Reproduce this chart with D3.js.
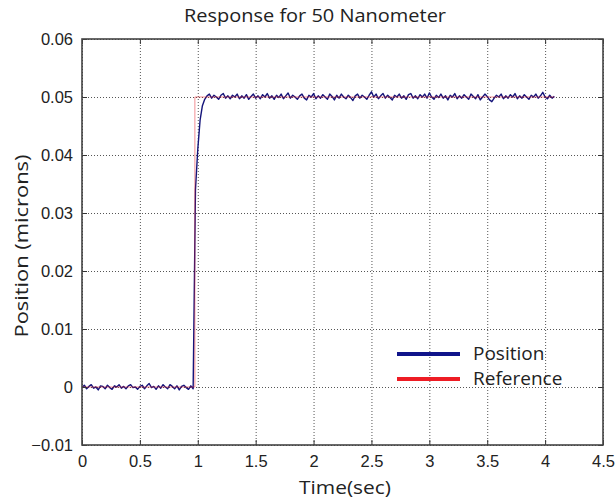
<!DOCTYPE html>
<html>
<head>
<meta charset="utf-8">
<script src="https://cdn.jsdelivr.net/npm/d3@7"></script>
<style>
  body { margin: 0; background: #fff; }
  svg { display: block; }
</style>
</head>
<body>
<div id="chart"></div>
<script>

// sample spacing of the recorded position (sec)
var sampleStep = 0.02;

// measured position (microns), one value per sample from t = 0
var position = [
  -0.0001, 0.0003, -0.0003, 0.0001, 0.0004, -0.0002, 0.0000, -0.0005, 0.0002, 0.0001,
  -0.0003, 0.0003, -0.0001, -0.0004, 0.0002, 0.0000, 0.0004, -0.0002, 0.0001, -0.0003,
  0.0002, 0.0004, -0.0001, 0.0000, -0.0004, 0.0001, 0.0003, -0.0003, 0.0002, 0.0006,
  -0.0001, 0.0001, -0.0004, 0.0002, -0.0002, 0.0004, 0.0000, -0.0003, 0.0004, 0.0001,
  -0.0003, 0.0002, -0.0005, 0.0001, 0.0003, -0.0001, -0.0004, 0.0002, -0.0003,
  0.0340, 0.0410, 0.0460, 0.0485, 0.0496,
  0.0502, 0.0505, 0.0498, 0.0503, 0.0500, 0.0496, 0.0503, 0.0506, 0.0498, 0.0502,
  0.0497, 0.0503, 0.0500, 0.0505, 0.0497, 0.0502, 0.0498, 0.0504, 0.0496, 0.0501,
  0.0505, 0.0498, 0.0502, 0.0497, 0.0504, 0.0500, 0.0506, 0.0498, 0.0502, 0.0496,
  0.0503, 0.0499, 0.0505, 0.0497, 0.0502, 0.0507, 0.0498, 0.0503, 0.0500, 0.0496,
  0.0502, 0.0505, 0.0498, 0.0495, 0.0503, 0.0500, 0.0506, 0.0497, 0.0502, 0.0498,
  0.0504, 0.0500, 0.0496, 0.0505, 0.0501, 0.0495, 0.0503, 0.0498, 0.0505, 0.0500,
  0.0497, 0.0503, 0.0499, 0.0494, 0.0502, 0.0505, 0.0498, 0.0503, 0.0500, 0.0496,
  0.0503, 0.0509, 0.0500, 0.0505, 0.0497, 0.0502, 0.0506, 0.0498, 0.0503, 0.0499,
  0.0495, 0.0503, 0.0500, 0.0505, 0.0498, 0.0502, 0.0496, 0.0504, 0.0506, 0.0498,
  0.0502, 0.0497, 0.0504, 0.0500, 0.0505, 0.0498, 0.0507, 0.0500, 0.0496, 0.0503,
  0.0499, 0.0505, 0.0498, 0.0502, 0.0495, 0.0503, 0.0500, 0.0506, 0.0497, 0.0502,
  0.0498, 0.0504, 0.0500, 0.0496, 0.0505, 0.0501, 0.0497, 0.0504, 0.0495, 0.0500,
  0.0505, 0.0501, 0.0495, 0.0492, 0.0498, 0.0503, 0.0500, 0.0505, 0.0497, 0.0502,
  0.0498, 0.0504, 0.0500, 0.0506, 0.0497, 0.0502, 0.0498, 0.0504, 0.0500, 0.0496,
  0.0503, 0.0500, 0.0505, 0.0498, 0.0502, 0.0508, 0.0500, 0.0497, 0.0503, 0.0498,
  0.0501
];

// step reference
var referenceTime = [0, 0.975, 0.975, 4.08];
var referenceValue = [0, 0, 0.05, 0.05];

var xTicks = [0, 0.5, 1, 1.5, 2, 2.5, 3, 3.5, 4, 4.5];
var xTickLabels = ["0", "0.5", "1", "1.5", "2", "2.5", "3", "3.5", "4", "4.5"];
var yTicks = [-0.01, 0, 0.01, 0.02, 0.03, 0.04, 0.05, 0.06];
var yTickLabels = ["\u22120.01", "0", "0.01", "0.02", "0.03", "0.04", "0.05", "0.06"];

var seriesNames = ["Position", "Reference"];
var seriesColors = ["#14147a", "#e8202a"];

var svgWidth = 616;
var svgHeight = 502;
var margin = { top: 39, right: 13, bottom: 57, left: 82 };
var width = svgWidth - margin.left - margin.right;
var height = svgHeight - margin.top - margin.bottom;

var svg = d3.select("#chart")
    .append("svg")
    .attr("width", svgWidth)
    .attr("height", svgHeight);

var chartGroup = svg.append("g")
    .attr("transform", `translate(${margin.left}, ${margin.top})`);

var xScale = d3.scaleLinear()
    .domain([0, 4.5])
    .range([0, width]);

var yScale = d3.scaleLinear()
    .domain([-0.01, 0.06])
    .range([height, 0]);

// dotted grid
chartGroup.append("g")
    .call(d3.axisBottom(xScale).tickValues(xTicks).tickSize(height).tickFormat(""))
    .call(g => g.select(".domain").remove())
    .selectAll("line")
    .attr("stroke", "#555")
    .attr("stroke-dasharray", "1,2");

chartGroup.append("g")
    .call(d3.axisLeft(yScale).tickValues(yTicks).tickSize(-width).tickFormat(""))
    .call(g => g.select(".domain").remove())
    .selectAll("line")
    .attr("stroke", "#555")
    .attr("stroke-dasharray", "1,2");

// data lines
var posLine = d3.line()
    .x((d, i) => xScale(i * sampleStep))
    .y(d => yScale(d));

chartGroup.append("path")
    .datum(position)
    .attr("fill", "none")
    .attr("stroke", seriesColors[0])
    .attr("stroke-width", 1.4)
    .attr("stroke-linejoin", "round")
    .attr("d", posLine);

var refLine = d3.line()
    .x(d => xScale(d))
    .y((d, i) => yScale(referenceValue[i]));

chartGroup.append("path")
    .datum(referenceTime)
    .attr("fill", "none")
    .attr("stroke", seriesColors[1])
    .attr("stroke-width", 1)
    .attr("stroke-opacity", 0.5)
    .attr("d", refLine);

// axes with inward ticks, box style
var xAxis = d3.axisBottom(xScale).tickValues(xTicks).tickSize(-5).tickPadding(10)
    .tickFormat((d, i) => xTickLabels[i]);
var yAxis = d3.axisLeft(yScale).tickValues(yTicks).tickSize(-5).tickPadding(9)
    .tickFormat((d, i) => yTickLabels[i]);

chartGroup.append("g")
    .attr("transform", `translate(0, ${height})`)
    .call(xAxis)
    .call(g => g.select(".domain").remove());

chartGroup.append("g")
    .call(yAxis)
    .call(g => g.select(".domain").remove());

chartGroup.append("g")
    .call(d3.axisTop(xScale).tickValues(xTicks).tickSize(-5).tickFormat(""))
    .call(g => g.select(".domain").remove());

chartGroup.append("g")
    .attr("transform", `translate(${width}, 0)`)
    .call(d3.axisRight(yScale).tickValues(yTicks).tickSize(-5).tickFormat(""))
    .call(g => g.select(".domain").remove());

chartGroup.selectAll(".tick line").filter(function() {
    return !this.getAttribute("stroke-dasharray");
  })
    .attr("stroke", "#333");

chartGroup.selectAll(".tick text")
    .attr("font-family", "'Liberation Sans', Arial, sans-serif")
    .attr("font-size", "16.5px")
    .attr("fill", "#222");

chartGroup.append("rect")
    .attr("width", width)
    .attr("height", height)
    .attr("fill", "none")
    .attr("stroke", "#444")
    .attr("stroke-width", 1.6);

// title and labels
var labelFont = "'Open Sans', 'Noto Sans', sans-serif";

svg.append("text")
    .attr("x", 315)
    .attr("y", 22)
    .attr("text-anchor", "middle")
    .attr("font-family", labelFont)
    .attr("font-size", "19px")
    .attr("textLength", 262)
    .attr("lengthAdjust", "spacingAndGlyphs")
    .attr("fill", "#222")
    .text("Response for 50 Nanometer");

svg.append("text")
    .attr("x", 345)
    .attr("y", 494)
    .attr("text-anchor", "middle")
    .attr("font-family", labelFont)
    .attr("font-size", "19px")
    .attr("textLength", 92)
    .attr("lengthAdjust", "spacingAndGlyphs")
    .attr("fill", "#222")
    .text("Time(sec)");

svg.append("g")
    .attr("transform", "translate(28, 246)")
    .append("text")
    .attr("transform", "rotate(-90)")
    .attr("text-anchor", "middle")
    .attr("font-family", labelFont)
    .attr("font-size", "19px")
    .attr("textLength", 183)
    .attr("lengthAdjust", "spacingAndGlyphs")
    .attr("fill", "#222")
    .text("Position (microns)");

// legend, no box
var legend = svg.append("g")
    .attr("transform", "translate(397, 354)");

seriesNames.forEach(function(name, i) {
    legend.append("line")
        .attr("x1", 0)
        .attr("x2", 63)
        .attr("y1", i * 25)
        .attr("y2", i * 25)
        .attr("stroke", i === 0 ? "#10148a" : "#ee1c24")
        .attr("stroke-width", 4);
    legend.append("text")
        .attr("x", 76)
        .attr("y", i * 25 + 6)
        .attr("font-family", labelFont)
        .attr("font-size", "19px")
        .attr("fill", "#222")
        .text(name);
});

</script>
</body>
</html>
